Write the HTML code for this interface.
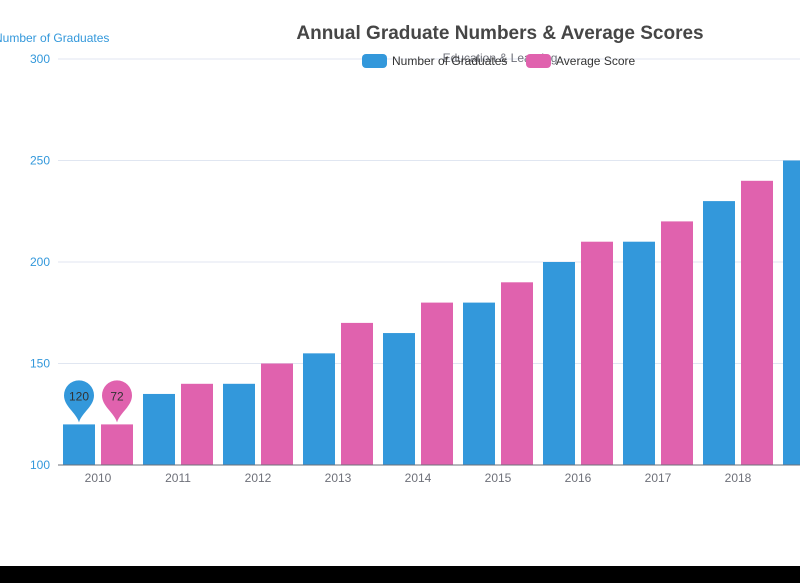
<!DOCTYPE html>
<html><head><meta charset="utf-8"><style>
body{margin:0;background:#000;}
#wrap{position:relative;width:800px;height:583px;overflow:hidden;background:#000;}
svg{display:block;}
</style></head><body>
<div id="wrap">
<svg id="chart" width="800" height="583"></svg>
</div>
<script>
const categories = ['2010','2011','2012','2013','2014','2015','2016','2017','2018','2019'];
const graduates = [120,135,140,155,165,180,200,210,230,250];
const scores = [120,140,150,170,180,190,210,220,240,260];
const yTicks = [100,150,200,250,300];
const markLabels = ['120','72'];

const NS='http://www.w3.org/2000/svg';
const svg=document.getElementById('chart');
function el(tag,attrs,parent){const e=document.createElementNS(NS,tag);for(const k in attrs)e.setAttribute(k,attrs[k]);(parent||svg).appendChild(e);return e;}
const F='"Liberation Sans", "DejaVu Sans", sans-serif';
el('rect',{x:0,y:0,width:800,height:566,fill:'#fff'});
const x0=58, band=80, y0=465, yTop=59;
const yScale=v=>y0-(v-100)/(300-100)*(y0-yTop);
const xCenter=i=>x0+band*i+band/2;

yTicks.forEach(t=>{
  const y=yScale(t);
  if(t>100){const g=el('line',{x1:x0,x2:800,y1:y,y2:y,stroke:'#e0e6f1','stroke-width':1});
  }
  const tx=el('text',{x:50,y:y+4,'text-anchor':'end','font-size':12,fill:'#3398db','font-family':F});
  tx.textContent=t;
  
});
const yt=el('text',{x:-6,y:42,'font-size':12,fill:'#3398db','font-family':F});
yt.textContent='Number of Graduates';


categories.forEach((c,i)=>{
  const cx=xCenter(i);
  const b=el('rect',{x:cx-35,y:yScale(graduates[i]),width:32,height:y0-yScale(graduates[i]),fill:'#3398db'});
  
  const p=el('rect',{x:cx+3,y:yScale(scores[i]),width:32,height:y0-yScale(scores[i]),fill:'#e062ae'});
  
  const tl=el('text',{x:cx,y:y0+17,'text-anchor':'middle','font-size':12,fill:'#6e7079','font-family':F});
  tl.textContent=c;
  
});
const ax=el('line',{x1:x0,x2:800,y1:y0,y2:y0,stroke:'#6e7079'});


[[xCenter(0)-19,graduates[0],'#3398db',markLabels[0]],[xCenter(0)+19,scores[0],'#e062ae',markLabels[1]]].forEach((m,k)=>{
  const [cx,v,col,lab]=m; const ty=yScale(v);
  const g=el('g',{});
  
  el('path',{d:`M${cx} ${ty-2} C${cx-3} ${ty-12} ${cx-15} ${ty-18} ${cx-15} ${ty-29} A15 15 0 1 1 ${cx+15} ${ty-29} C${cx+15} ${ty-18} ${cx+3} ${ty-12} ${cx} ${ty-2}Z`,fill:col},g);
  const t=el('text',{x:cx,y:ty-24,'text-anchor':'middle','font-size':12,fill:'#333','font-family':F},g);
  t.textContent=lab;
});

const title=el('text',{x:500,y:39,'text-anchor':'middle','font-size':19,'font-weight':'bold',fill:'#464646','font-family':F});
title.textContent='Annual Graduate Numbers & Average Scores';

const sub=el('text',{x:500,y:62,'text-anchor':'middle','font-size':12,fill:'#6e7079','font-family':F});
sub.textContent='Education & Learning';


const lg=el('g',{});

const l1=el('g',{},lg);
el('rect',{x:362,y:54,width:25,height:14,rx:4,fill:'#3398db'},l1);
el('text',{x:392,y:65,'font-size':12,fill:'#333','font-family':F},l1).textContent='Number of Graduates';
const l2=el('g',{},lg);
el('rect',{x:526,y:54,width:25,height:14,rx:4,fill:'#e062ae'},l2);
el('text',{x:556,y:65,'font-size':12,fill:'#333','font-family':F},l2).textContent='Average Score';
</script>
</body></html>
